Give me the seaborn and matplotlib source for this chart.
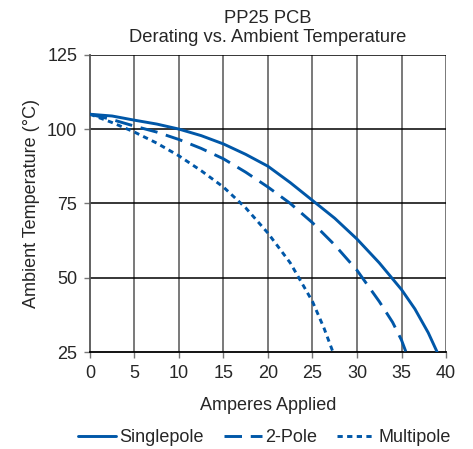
import pandas as pd
import matplotlib.pyplot as plt
import seaborn as sns

# values
single_amps = [0, 2.5, 5, 7.5, 10, 12.5, 15, 17.5, 20, 22.5, 25, 27.5, 30, 32.5, 35, 36.5, 38, 39]
single_temp = [105, 104.4, 103, 101.7, 100, 97.8, 95, 91.5, 87.5, 82, 76, 70, 63, 55, 46, 39.5, 31.5, 25]
two_amps = [0, 2.5, 5, 7.5, 10, 12.5, 15, 17.5, 20, 22.5, 25, 27.5, 30, 32.5, 34, 35, 35.5]
two_temp = [105, 103.2, 101, 99, 96.5, 93.5, 90, 85.5, 80.5, 75, 68.5, 61, 52.5, 42, 35, 29, 25]
multi_amps = [0, 2.5, 5, 7.5, 10, 12.5, 15, 17.5, 20, 22.5, 25, 26.3, 27.3]
multi_temp = [105, 102.2, 99, 95.3, 91, 86, 80.5, 73.5, 65, 55, 42, 33, 25]

x_ticks = [0, 5, 10, 15, 20, 25, 30, 35, 40]
y_ticks = [25, 50, 75, 100, 125]

df = pd.concat([
    pd.DataFrame({'amps': single_amps, 'temp': single_temp, 'type': 'Singlepole'}),
    pd.DataFrame({'amps': two_amps, 'temp': two_temp, 'type': '2-Pole'}),
    pd.DataFrame({'amps': multi_amps, 'temp': multi_temp, 'type': 'Multipole'}),
])

sns.set_style('white')
plt.rcParams['font.family'] = ['Liberation Sans', 'DejaVu Sans']

fig = plt.figure(figsize=(4.73, 4.49), dpi=100)
ax = fig.add_axes([0.190, 0.216, 0.753, 0.662])

blue = '#0057a8'
sns.lineplot(data=df, x='amps', y='temp', hue='type', style='type',
             palette=[blue, blue, blue],
             dashes={'Singlepole': '', '2-Pole': (6, 3), 'Multipole': (1.8, 1.5)},
             linewidth=2.1, sort=False, estimator=None, ax=ax, zorder=3)

ax.set_xlim(0, 40)
ax.set_ylim(25, 125)
ax.set_xticks(x_ticks)
ax.set_yticks(y_ticks)
ax.tick_params(labelsize=13, length=4, width=1, direction='out', color='#777777',
               bottom=True, left=True, pad=5)
for x in x_ticks[1:]:
    ax.axvline(x, color='#555555', lw=1.1, zorder=1)
for y in y_ticks[1:]:
    ax.axhline(y, color='black', lw=1.1, zorder=1)
ax.spines['left'].set_color('#555555')
ax.spines['left'].set_linewidth(1.3)
ax.spines['bottom'].set_color('black')
ax.spines['bottom'].set_linewidth(1.3)
ax.spines['top'].set_visible(False)
ax.spines['right'].set_visible(False)

ax.set_xlabel('Amperes Applied', fontsize=13, labelpad=11)
ax.set_ylabel('Ambient Temperature (°C)', fontsize=13, labelpad=5)
ax.set_title('PP25 PCB\nDerating vs. Ambient Temperature', fontsize=13.2, pad=9,
             linespacing=1.15)

ax.legend(loc='upper center', bbox_to_anchor=(0.49, -0.235), ncol=3, frameon=False,
          fontsize=13, handlelength=2.1, handletextpad=0.2, columnspacing=1.1,
          borderaxespad=0)

fig.savefig('out.png', dpi=100)
